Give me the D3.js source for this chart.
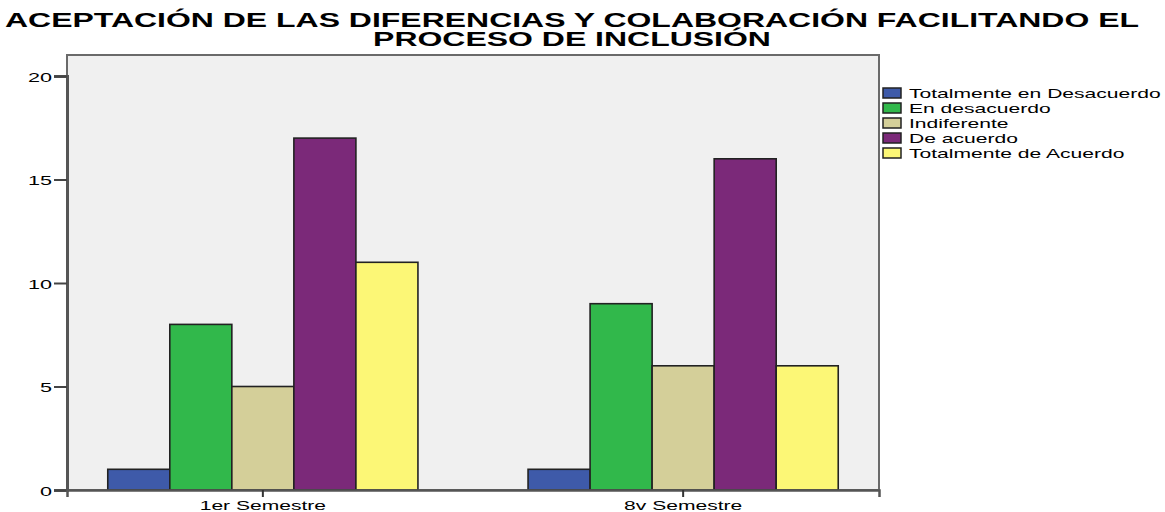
<!DOCTYPE html>
<html>
<head>
<meta charset="utf-8">
<script src="https://cdn.jsdelivr.net/npm/d3@7"></script>
<style>
  html, body { margin: 0; padding: 0; background: #ffffff; }
  svg { display: block; }
  text { font-family: "Liberation Sans", Arial, sans-serif; fill: #000; }
</style>
</head>
<body>
<svg id="chart" width="1165" height="512"></svg>
<script>
// ---- data ----
const semesters = ["1er Semestre", "8v Semestre"];
const responses = ["Totalmente en Desacuerdo", "En desacuerdo", "Indiferente", "De acuerdo", "Totalmente de Acuerdo"];
const counts1er = [1, 8, 5, 17, 11];
const counts8v  = [1, 9, 6, 16, 6];
const yTicks = [0, 5, 10, 15, 20];
const titleLines = ["ACEPTACIÓN DE LAS DIFERENCIAS Y COLABORACIÓN FACILITANDO EL", "PROCESO DE INCLUSIÓN"];
const responseColors = ["#3e5aa9", "#31b84b", "#d4cf99", "#7b2979", "#fcf776"];

const table = semesters.map((s, i) => ({
  semester: s,
  values: (i === 0 ? counts1er : counts8v).map((v, j) => ({ key: responses[j], value: v }))
}));

// ---- layout ----
const svg = d3.select("#chart");
const sx = 1.56;                 // horizontal text stretch
const plot = { left: 67, right: 879, top: 55, bottom: 490 };

const x0 = d3.scaleBand()
  .domain(semesters)
  .range([plot.left, plot.right])
  .paddingInner(0.262)
  .paddingOuter(0.097);
const x1 = d3.scaleBand()
  .domain(responses)
  .range([0, x0.bandwidth()])
  .padding(0);
const y = d3.scaleLinear().domain([0, 20]).range([plot.bottom, 76]);
const color = d3.scaleOrdinal().domain(responses).range(responseColors);

// ---- title ----
svg.append("g").selectAll("text")
  .data(titleLines)
  .join("text")
  .attr("transform", (d, i) => `translate(572,${26.5 + i * 19}) scale(1.64,1)`)
  .attr("text-anchor", "middle")
  .style("font-weight", "bold")
  .style("font-size", "19.5px")
  .text(d => d);

// ---- plot background ----
svg.append("rect")
  .attr("x", plot.left).attr("y", plot.top)
  .attr("width", plot.right - plot.left)
  .attr("height", plot.bottom - plot.top)
  .attr("fill", "#f0f0f0")
  .attr("stroke", "#6a6a6a")
  .attr("stroke-width", 2);

// ---- bars ----
const groups = svg.append("g").selectAll("g")
  .data(table)
  .join("g")
  .attr("transform", d => `translate(${x0(d.semester)},0)`);

groups.selectAll("rect")
  .data(d => d.values)
  .join("rect")
  .attr("x", d => x1(d.key))
  .attr("y", d => y(d.value))
  .attr("width", x1.bandwidth())
  .attr("height", d => y(0) - y(d.value))
  .attr("fill", d => color(d.key))
  .attr("stroke", "#222")
  .attr("stroke-width", 1.6);

// ---- y axis ----
const yAxis = svg.append("g")
  .attr("transform", `translate(${plot.left},0)`)
  .call(d3.axisLeft(y).tickValues(yTicks).tickSize(13).tickPadding(2).tickFormat(d3.format("d")));
yAxis.select(".domain").attr("stroke", "#555").attr("stroke-width", 3);
yAxis.selectAll(".tick line").attr("stroke", "#444").attr("stroke-width", 2);
yAxis.selectAll(".tick text")
  .attr("x", null).attr("dy", null)
  .attr("transform", `translate(-15,5) scale(1.6,1)`)
  .style("font-size", "13.5px")
  .style("font-family", "'Liberation Sans', Arial, sans-serif")
  .attr("fill", "#000");

// ---- x axis ----
const xAxis = svg.append("g")
  .attr("transform", `translate(0,${plot.bottom})`)
  .call(d3.axisBottom(x0).tickSize(7).tickPadding(0));
xAxis.select(".domain").attr("stroke", "#555").attr("stroke-width", 2.5);
xAxis.selectAll(".tick line").attr("stroke", "#333").attr("stroke-width", 2);
xAxis.selectAll(".tick text")
  .attr("y", null).attr("dy", null)
  .attr("transform", `translate(0,20) scale(${sx},1)`)
  .style("font-size", "13.5px")
  .style("font-family", "'Liberation Sans', Arial, sans-serif")
  .attr("fill", "#000");

// ---- legend ----
const legend = svg.append("g").attr("transform", "translate(883,88)");
const items = legend.selectAll("g")
  .data(responses)
  .join("g")
  .attr("transform", (d, i) => `translate(0,${i * 15})`);
items.append("rect")
  .attr("width", 18).attr("height", 10)
  .attr("fill", d => color(d))
  .attr("stroke", "#222").attr("stroke-width", 1.5);
items.append("text")
  .attr("transform", `translate(26,10) scale(1.62,1)`)
  .style("font-size", "13px")
  .text(d => d);
</script>
</body>
</html>
